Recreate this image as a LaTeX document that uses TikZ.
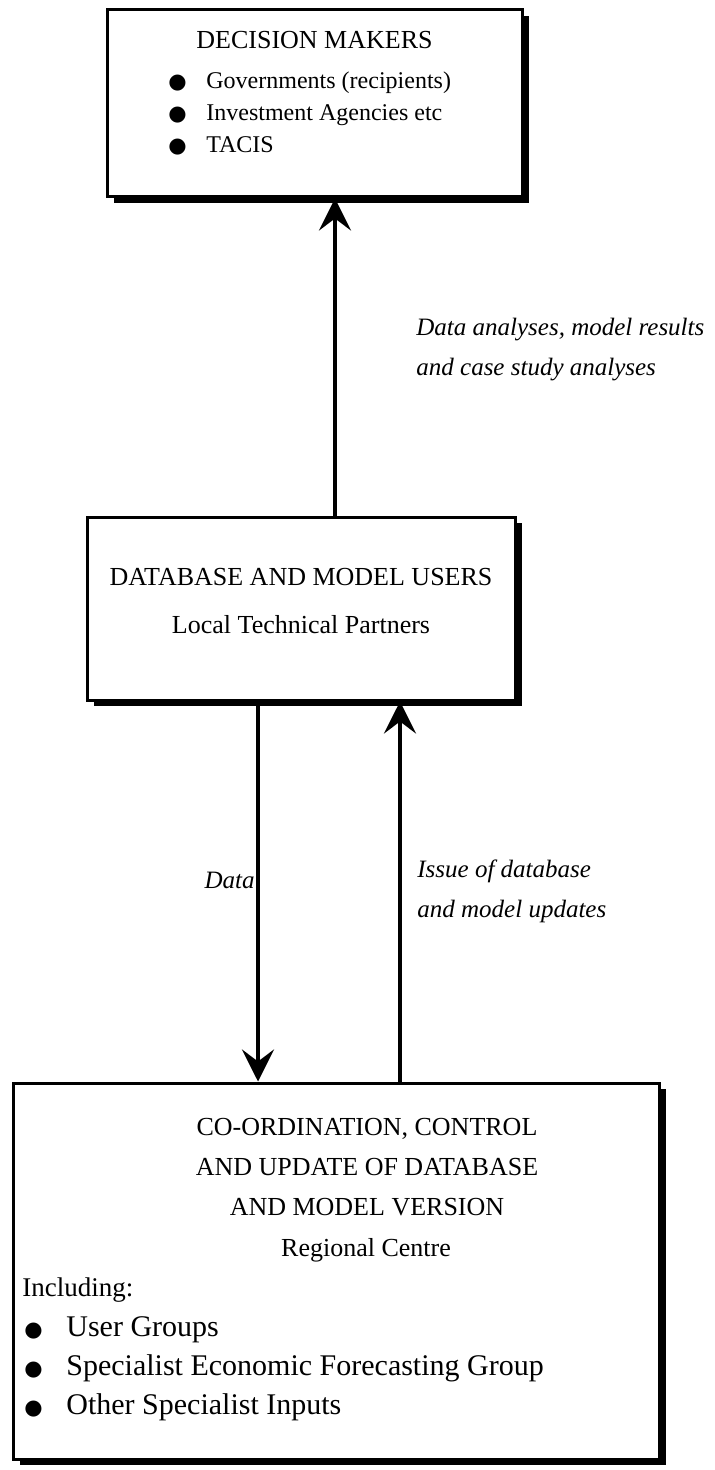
\documentclass[tikz,border=0pt]{standalone}
\usepackage{fontspec}
\setmainfont{Liberation Serif}
\newfontfamily\dotfont{DejaVu Sans}
\usetikzlibrary{arrows.meta,shadows}

\newcommand{\blt}[1]{\makebox[#1][l]{\dotfont\fontsize{10.5}{10}\selectfont ●}}

\tikzset{
  panel/.style={draw,line width=1.5pt,fill=white,inner sep=0pt,
    drop shadow={shadow xshift=3.5pt,shadow yshift=-3pt,opacity=1,fill=black}},
  flow/.style={-{Stealth[length=16pt,width=16pt,inset=6pt]},line width=2pt},
  txt/.style={font=\fontsize{13}{17}\selectfont,inner sep=0pt},
  lbl/.style={font=\fontsize{12.5}{20}\selectfont\itshape,inner sep=0pt,align=left},
}

\begin{document}
\begin{tikzpicture}[x=0.5pt,y=-0.5pt]
  \useasboundingbox (0,0) rectangle (714,1470);
  % Boxes
  \node[panel,minimum width=207.5pt,minimum height=93.5pt] (makers) at (314.5,103.5) {};
  \node[panel,minimum width=214pt,minimum height=91.5pt] (users) at (301,608.5) {};
  \node[panel,minimum width=323pt,minimum height=188pt] (centre) at (336,1271) {};
  % Box texts
  \node[txt] (makershead) at (314.5,40) {DECISION MAKERS};
  \node[txt,anchor=west,align=left,font=\fontsize{12}{16}\selectfont] (makerslist) at (168,113) {\blt{19pt}Governments (recipients)\\\blt{19pt}Investment Agencies etc\\\blt{19pt}TACIS};
  \node[txt] (usershead) at (301,577) {DATABASE AND MODEL USERS};
  \node[txt] (userssub) at (301,625) {Local Technical Partners};
  \node[txt,align=center,font=\fontsize{13}{20}\selectfont] (centrehead) at (367,1167) {CO-ORDINATION, CONTROL\\AND UPDATE OF DATABASE\\AND MODEL VERSION};
  \node[txt] (centresub) at (366,1250) {Regional Centre};
  \node[txt,anchor=west,font=\fontsize{13.5}{17}\selectfont] (including) at (22,1290) {Including:};
  \node[txt,anchor=west,align=left,font=\fontsize{15}{19.5}\selectfont] (centrelist) at (24,1369) {\blt{21pt}User Groups\\\blt{21pt}Specialist Economic Forecasting Group\\\blt{21pt}Other Specialist Inputs};
  % Arrows
  \coordinate (upA) at (335,0);
  \coordinate (downB) at (258,0);
  \coordinate (upB) at (400,0);
  \draw[flow] (users.north -| upA) -- (makers.south -| upA);
  \draw[flow] (users.south -| downB) -- (centre.north -| downB);
  \draw[flow] (centre.north -| upB) -- (users.south -| upB);
  % Labels
  \node[lbl,anchor=west] (lblresults) at (416,350) {Data analyses, model results\\and case study analyses};
  \node[lbl,anchor=east] (lbldata) at (255,880) {Data};
  \node[lbl,anchor=west] (lblupdates) at (417,891) {Issue of database\\and model updates};
\end{tikzpicture}
\end{document}
